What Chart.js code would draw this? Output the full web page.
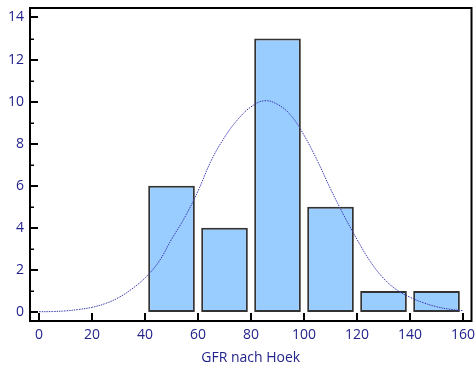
<!DOCTYPE html>
<html lang="de">
<head>
<meta charset="UTF-8">
<title>GFR nach Hoek</title>
<script src="https://cdn.jsdelivr.net/npm/chart.js@4.4.1/dist/chart.umd.min.js"></script>
<style>
  body { margin: 0; background: #fff; }
  #wrap { width: 475px; height: 367px; position: relative; }
</style>
</head>
<body>
<div id="wrap"><canvas id="hist"></canvas></div>
<script>
    // histogram bins (centres) and counts
    const binCentres = [50, 70, 90, 110, 130, 150]
    const counts = [6, 4, 13, 5, 1, 1]

    // fitted normal curve
    const curveX = [0, 5, 10, 15, 20, 25, 30, 35, 40, 45, 50, 55, 60, 65, 70, 75, 80,
                    85, 90, 95, 100, 105, 110, 115, 120, 125, 130, 135, 140, 145, 150, 155, 160]
    const curveY = [0.01, 0.02, 0.05, 0.12, 0.22, 0.40, 0.68, 1.09, 1.62, 2.35, 3.45, 4.50, 5.75, 7.20, 8.30, 9.15, 9.75,
                    10.04, 9.87, 9.35, 8.40, 7.20, 5.85, 4.60, 3.45, 2.40, 1.60, 1.05, 0.70, 0.44, 0.25, 0.13, 0.06]

    const xTicks = [0, 20, 40, 60, 80, 100, 120, 140, 160]
    const yTicks = [0, 2, 4, 6, 8, 10, 12, 14]
    const yMinorTicks = [1, 3, 5, 7, 9, 11, 13]

    const labelColor = "#23238c"
    const fontSpec = {family: "'Open Sans', sans-serif", size: 14}

    // no extra room for overflowing labels, the frame fills the canvas
    function noPad(s) {
        s.paddingLeft = 0; s.paddingRight = 0; s.paddingTop = 0; s.paddingBottom = 0
    }

    // frame + inward tick marks
    const framePlugin = {
        id: "frame",
        afterDatasetsDraw(chart) {
            const ctx = chart.ctx
            const a = chart.chartArea
            const xs = chart.scales.x
            const ys = chart.scales.y
            ctx.save()
            ctx.strokeStyle = "#000"
            ctx.lineWidth = 2
            ctx.strokeRect(a.left, a.top, a.right - a.left, a.bottom - a.top)
            yTicks.forEach(v => {
                let y = Math.round(ys.getPixelForValue(v))
                ctx.beginPath(); ctx.moveTo(a.left, y); ctx.lineTo(a.left + 8, y); ctx.stroke()
            })
            ctx.lineWidth = 1.5
            yMinorTicks.forEach(v => {
                let y = Math.round(ys.getPixelForValue(v)) + 0.25
                ctx.beginPath(); ctx.moveTo(a.left, y); ctx.lineTo(a.left + 4, y); ctx.stroke()
            })
            ctx.lineWidth = 2
            xTicks.forEach(v => {
                let x = Math.round(xs.getPixelForValue(v))
                ctx.beginPath(); ctx.moveTo(x, a.bottom); ctx.lineTo(x, a.bottom - 8); ctx.stroke()
            })
            ctx.restore()
        }
    }

    new Chart("hist", {
        type: "bar",
        plugins: [framePlugin],
        data: {
            datasets: [
                {
                    type: "line",
                    order: 0,
                    data: curveX.map((x, i) => ({x: x, y: curveY[i]})),
                    borderColor: "#3b3bb0",
                    borderWidth: 1,
                    borderDash: [1.5, 1],
                    pointRadius: 0,
                    tension: 0.4,
                    fill: false
                },
                {
                    order: 1,
                    data: binCentres.map((x, i) => ({x: x, y: counts[i]})),
                    backgroundColor: "#99ccff",
                    borderColor: "#333333",
                    borderWidth: 2,
                    borderSkipped: false,
                    barPercentage: 0.88,
                    categoryPercentage: 1
                }
            ]
        },
        options: {
            responsive: true,
            maintainAspectRatio: false,
            animation: false,
            layout: {padding: {top: 8, right: 3.5, left: 0, bottom: 0}},
            plugins: {legend: {display: false}, tooltip: {enabled: false}},
            scales: {
                x: {
                    type: "linear",
                    offset: false,
                    min: -3.4,
                    max: 163.2,
                    grid: {display: false, drawTicks: false, offset: false},
                    border: {display: false},
                    afterBuildTicks: s => { s.ticks = xTicks.map(v => ({value: v})) },
                    afterFit: s => { s.height = 46; noPad(s) },
                    ticks: {color: labelColor, font: fontSpec, padding: 6, maxRotation: 0},
                    title: {display: true, text: "GFR nach Hoek", color: labelColor, font: fontSpec, padding: {top: 0, bottom: 1}}
                },
                y: {
                    min: -0.43,
                    max: 14.45,
                    grid: {display: false, drawTicks: false},
                    border: {display: false},
                    afterBuildTicks: s => { s.ticks = yTicks.map(v => ({value: v})) },
                    afterFit: s => { s.width = 30; noPad(s) },
                    ticks: {color: labelColor, font: fontSpec, padding: 6}
                }
            }
        }
    })
</script>
</body>
</html>
